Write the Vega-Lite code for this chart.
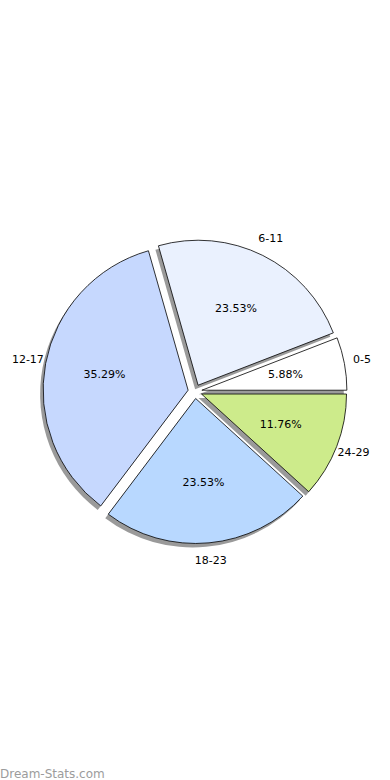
{
  "$schema": "https://vega.github.io/schema/vega-lite/v6.json",
  "width": 390,
  "height": 780,
  "autosize": {"type": "fit", "contains": "padding"},
  "padding": {"top": 14, "left": 0, "right": 0, "bottom": 0},
  "background": "white",
  "view": {"stroke": null},
  "title": {"text": "Dream-Stats.com", "orient": "bottom", "anchor": "start", "color": "#9c9c9c", "font": "DejaVu Sans", "fontSize": 12, "fontWeight": "normal", "offset": 0},
  "data": {"values": [
    {"k": 1, "age": "0-5", "share": 0.0588},
    {"k": 2, "age": "6-11", "share": 0.2353},
    {"k": 3, "age": "12-17", "share": 0.3529},
    {"k": 4, "age": "18-23", "share": 0.2353},
    {"k": 5, "age": "24-29", "share": 0.1176}
  ]},
  "encoding": {
    "theta": {"field": "share", "type": "quantitative", "stack": true, "scale": {"range": [1.5708, -4.7124]}},
    "order": {"field": "k", "type": "quantitative"},
    "color": {"field": "age", "type": "nominal", "sort": null, "legend": null,
      "scale": {"domain": ["0-5", "6-11", "12-17", "18-23", "24-29"], "range": ["#ffffff", "#eaf1fe", "#c6d8fe", "#b8d8ff", "#cdeb8b"]}}
  },
  "layer": [
    {
      "mark": {"type": "arc", "outerRadius": 145,
        "xOffset": {"expr": "-3 + 7*sin((scale('theta', datum.share_start) + scale('theta', datum.share_end))/2)"},
        "yOffset": {"expr": "4 - 7*cos((scale('theta', datum.share_start) + scale('theta', datum.share_end))/2)"}},
      "encoding": {"color": {"value": "#9a9a9a"}}
    },
    {
      "mark": {"type": "arc", "outerRadius": 145, "stroke": "#000000", "strokeWidth": 0.8,
        "xOffset": {"expr": "7*sin((scale('theta', datum.share_start) + scale('theta', datum.share_end))/2)"},
        "yOffset": {"expr": "-7*cos((scale('theta', datum.share_start) + scale('theta', datum.share_end))/2)"}}
    },
    {
      "mark": {"type": "text", "radius": 92, "font": "DejaVu Sans", "fontSize": 11, "color": "#000000"},
      "encoding": {"text": {"field": "share", "type": "quantitative", "format": ".2%"}, "color": {"value": "#000000"}}
    },
    {
      "mark": {"type": "text", "radius": 170, "font": "DejaVu Sans", "fontSize": 11, "color": "#000000"},
      "encoding": {"text": {"field": "age", "type": "nominal"}, "color": {"value": "#000000"}}
    }
  ]
}
